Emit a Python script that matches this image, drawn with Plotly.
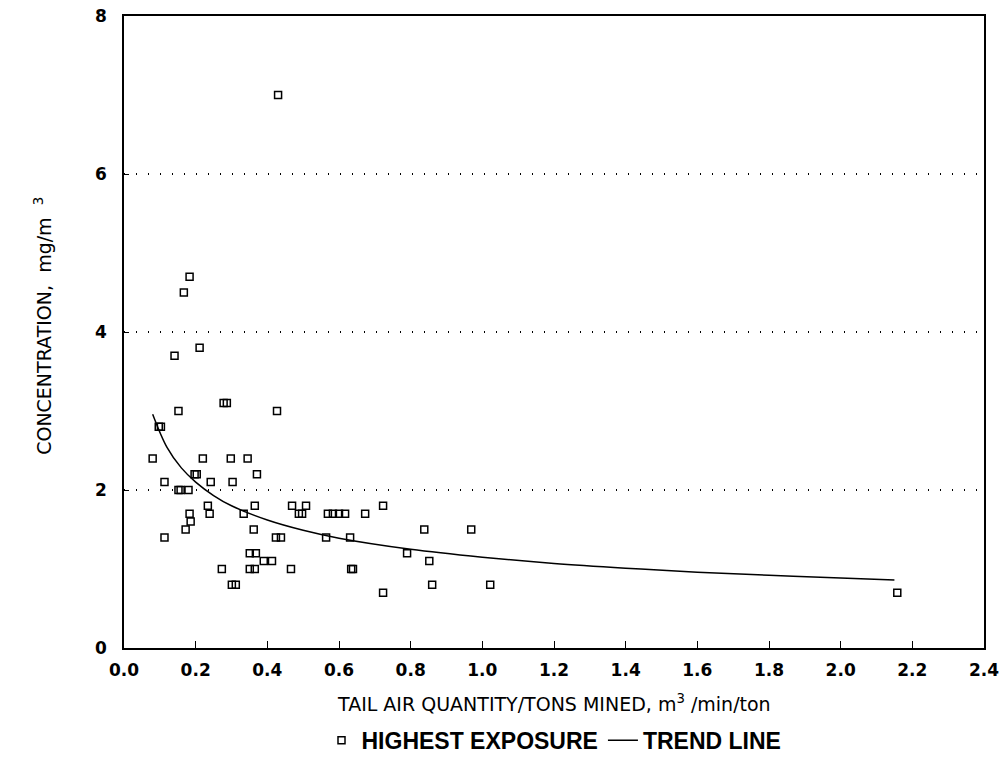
import plotly.graph_objects as go

# Highest exposure data (x: tail air quantity / tons mined, y: concentration)
exposure_x = [0.183, 0.167, 0.211, 0.141, 0.278, 0.287, 0.152, 0.427, 0.097, 0.103,
              0.080, 0.220, 0.298, 0.345, 0.197, 0.203, 0.371, 0.113, 0.242, 0.303,
              0.152, 0.158, 0.180, 0.234, 0.365, 0.469, 0.508, 0.183, 0.239, 0.334,
              0.488, 0.497, 0.569, 0.583, 0.600, 0.617, 0.673, 0.723, 0.186, 0.172,
              0.362, 0.838, 0.969, 0.113, 0.424, 0.438, 0.564, 0.631, 0.351, 0.368,
              0.390, 0.413, 0.790, 0.852, 0.273, 0.351, 0.365, 0.466, 0.634, 0.639,
              0.301, 0.312, 0.860, 1.022, 0.723, 2.158, 0.430]
exposure_y = [4.7, 4.5, 3.8, 3.7, 3.1, 3.1, 3.0, 3.0, 2.8, 2.8,
              2.4, 2.4, 2.4, 2.4, 2.2, 2.2, 2.2, 2.1, 2.1, 2.1,
              2.0, 2.0, 2.0, 1.8, 1.8, 1.8, 1.8, 1.7, 1.7, 1.7,
              1.7, 1.7, 1.7, 1.7, 1.7, 1.7, 1.7, 1.8, 1.6, 1.5,
              1.5, 1.5, 1.5, 1.4, 1.4, 1.4, 1.4, 1.4, 1.2, 1.2,
              1.1, 1.1, 1.2, 1.1, 1.0, 1.0, 1.0, 1.0, 1.0, 1.0,
              0.8, 0.8, 0.8, 0.8, 0.7, 0.7, 7.0]

# Trend line
trend_x = [0.08, 0.12, 0.16, 0.20, 0.25, 0.30, 0.40, 0.50, 0.60, 0.80,
           1.00, 1.20, 1.40, 1.60, 1.80, 2.00, 2.15]
trend_y = [2.96, 2.54, 2.28, 2.10, 1.93, 1.80, 1.62, 1.49, 1.39, 1.25,
           1.15, 1.07, 1.01, 0.96, 0.92, 0.885, 0.86]

x_ticks = [0.0, 0.2, 0.4, 0.6, 0.8, 1.0, 1.2, 1.4, 1.6, 1.8, 2.0, 2.2, 2.4]
x_tick_labels = ["0.0", "0.2", "0.4", "0.6", "0.8", "1.0", "1.2", "1.4", "1.6", "1.8", "2.0", "2.2", "2.4"]
y_ticks = [0, 2, 4, 6, 8]

TICK_FONT = "DejaVu Sans"
TEXT_FONT = "DejaVu Sans"
LEG_FONT = "Liberation Sans"

fig = go.Figure()
fig.add_trace(go.Scatter(
    x=exposure_x, y=exposure_y, mode="markers", name="HIGHEST EXPOSURE",
    marker=dict(symbol="square-open", size=7, color="black", line=dict(width=1.5, color="black")),
))
fig.add_trace(go.Scatter(
    x=trend_x, y=trend_y, mode="lines", name="TREND LINE",
    line=dict(color="black", width=1.5, shape="spline"),
))

fig.update_layout(
    width=1003, height=759,
    margin=dict(l=124, r=19, t=16, b=111, autoexpand=False),
    paper_bgcolor="white", plot_bgcolor="white",
    font=dict(family=TEXT_FONT, color="black"),
    showlegend=True,
    legend=dict(orientation="h", x=0.5, xanchor="center", y=-0.146, yanchor="middle",
                font=dict(family=LEG_FONT, size=23, weight="bold", color="black"),
                itemwidth=30, tracegroupgap=0),
    annotations=[
        dict(text="TAIL AIR QUANTITY/TONS MINED, m<sup>3</sup> /min/ton",
             xref="paper", yref="paper", x=0.5, y=-0.087, xanchor="center", yanchor="middle",
             showarrow=False, font=dict(family=TEXT_FONT, size=19, color="black")),
        dict(text="CONCENTRATION,  mg/m  <sup>3</sup>",
             xref="paper", yref="paper", x=-0.094, y=0.51, xanchor="center", yanchor="middle",
             textangle=-90, showarrow=False, font=dict(family=TEXT_FONT, size=19, color="black")),
    ],
)
fig.update_xaxes(
    range=[0, 2.4], tickvals=x_ticks, ticktext=x_tick_labels,
    showline=True, linecolor="black", linewidth=1.5, mirror=True,
    ticks="inside", ticklen=7, tickcolor="black", tickwidth=1,
    showgrid=False, zeroline=False, ticklabelstandoff=6,
    tickfont=dict(family=TICK_FONT, size=17, weight="bold"),
)
fig.update_yaxes(
    range=[0, 8], tickvals=y_ticks,
    showline=True, linecolor="black", linewidth=1.5, mirror=True,
    ticks="inside", ticklen=5, tickcolor="black", tickwidth=1,
    showgrid=True, gridcolor="black", griddash="1px,11px", gridwidth=1.5,
    zeroline=False, ticklabelstandoff=12,
    tickfont=dict(family=TICK_FONT, size=17, weight="bold"),
)

fig.write_html("out.html")
